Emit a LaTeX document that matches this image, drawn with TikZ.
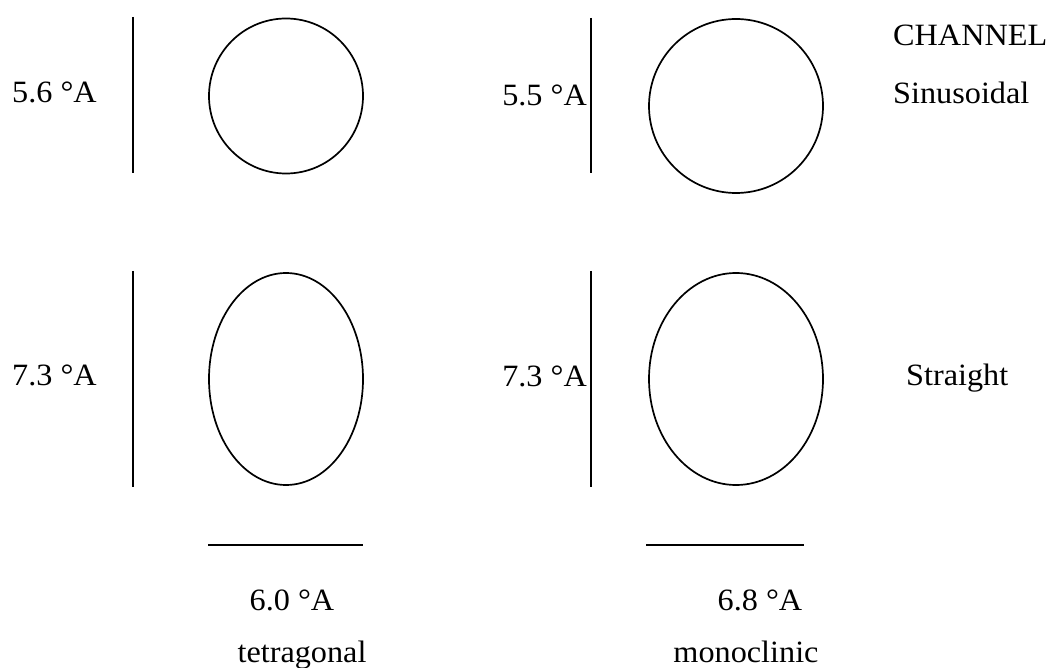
\documentclass[tikz,border=0pt]{standalone}
\usepackage{fontspec}
\setmainfont{Liberation Serif}[FakeStretch=1.04]
\usetikzlibrary{shapes.geometric}
\begin{document}
\begin{tikzpicture}[x=1pt,y=-1pt,
  lbl/.style={font=\fontsize{31}{37}\selectfont, inner sep=0pt},
  pore/.style={draw, ellipse, line width=1.7pt, inner sep=0pt},
  dim/.style={line width=1.9pt}]
\useasboundingbox (0,0) rectangle (1057,668);
% pores
\node[pore, minimum width=154pt, minimum height=155pt] (c1) at (286,96) {};
\node[pore, minimum width=174pt, minimum height=174pt] (c2) at (736,106) {};
\node[pore, minimum width=154pt, minimum height=212pt] (e1) at (286,379) {};
\node[pore, minimum width=174pt, minimum height=212pt] (e2) at (736,379) {};
% dimension bars
\coordinate (v1a) at (133,17);  \coordinate (v1b) at (133,173);
\coordinate (v2a) at (591,18);  \coordinate (v2b) at (591,173);
\coordinate (v3a) at (133,271); \coordinate (v3b) at (133,487);
\coordinate (v4a) at (591,271); \coordinate (v4b) at (591,487);
\coordinate (h1a) at (208,545); \coordinate (h1b) at (363,545);
\coordinate (h2a) at (646,545); \coordinate (h2b) at (804,545);
\draw[dim] (v1a) -- (v1b);
\draw[dim] (v2a) -- (v2b);
\draw[dim] (v3a) -- (v3b);
\draw[dim] (v4a) -- (v4b);
\draw[dim] (h1a) -- (h1b);
\draw[dim] (h2a) -- (h2b);
% labels
\node[lbl, anchor=base west] (t1) at (12,103) {5.6 °A};
\node[lbl, anchor=base east] (t2) at (587,106) {5.5 °A};
\node[lbl, anchor=base west] (t3) at (12,385) {7.3 °A};
\node[lbl, anchor=base east] (t4) at (587,386) {7.3 °A};
\node[lbl, anchor=base] (t5) at (292,610) {6.0 °A};
\node[lbl, anchor=base] (t6) at (760,610) {6.8 °A};
\node[lbl, anchor=base] (t7) at (302,662) {tetragonal};
\node[lbl, anchor=base] (t8) at (746,662) {monoclinic};
\node[lbl, anchor=base west] (t9) at (893,46) {CHANNEL};
\node[lbl, anchor=base west] (t10) at (893,104) {Sinusoidal};
\node[lbl, anchor=base west] (t11) at (906,385) {Straight};
\end{tikzpicture}
\end{document}
